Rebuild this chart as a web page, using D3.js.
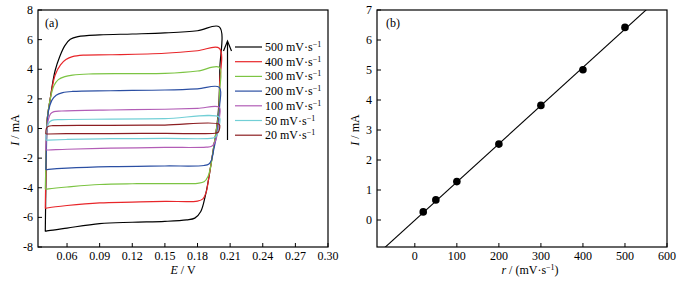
<!DOCTYPE html>
<html>
<head>
<meta charset="utf-8">
<script src="https://cdn.jsdelivr.net/npm/d3@7"></script>
<style>
body { margin: 0; background: #fff; }
text { font-family: "Liberation Serif", "DejaVu Serif", serif; }
</style>
</head>
<body>
<script>
// ---------- data ----------
// scan rates (legend order)
var rates = ["500", "400", "300", "200", "100", "50", "20"];
var rateColors = ["#000000", "#e8262a", "#7cc443", "#2b4fa3", "#b25db6", "#72cfd6", "#8c1e22"];

// cyclic voltammograms, [E / V, I / mA]
var cv500 = [[0.040,-6.95],[0.0405,-4],[0.041,-1],[0.0416,0.5],[0.0443,1.9],[0.049,3.9],[0.0535,4.9],[0.058,5.6],[0.063,6.02],[0.070,6.2],[0.090,6.32],[0.120,6.38],[0.150,6.45],[0.180,6.6],[0.200,6.86],[0.2005,4],[0.1995,1.5],[0.1975,0],[0.195,-1.2],[0.192,-2.6],[0.190,-3.5],[0.187,-4.6],[0.183,-5.6],[0.1775,-6.05],[0.170,-6.17],[0.150,-6.27],[0.120,-6.33],[0.090,-6.42],[0.060,-6.72],[0.043,-6.9],[0.040,-6.95]];
var cv400 = [[0.040,-5.4],[0.0405,-3],[0.041,-1],[0.0416,0.5],[0.0443,1.9],[0.049,3.6],[0.054,4.3],[0.059,4.65],[0.065,4.85],[0.075,4.95],[0.100,4.98],[0.150,5.08],[0.180,5.25],[0.200,5.42],[0.2003,3],[0.1995,1],[0.1975,0],[0.195,-1.2],[0.192,-2.6],[0.190,-3.5],[0.188,-4.3],[0.185,-4.75],[0.180,-4.9],[0.150,-4.92],[0.120,-4.97],[0.090,-5.02],[0.060,-5.2],[0.043,-5.35],[0.040,-5.4]];
var cv300 = [[0.040,-4.1],[0.0405,-2.5],[0.041,-1],[0.0416,0.5],[0.0443,1.9],[0.048,2.9],[0.052,3.3],[0.058,3.5],[0.065,3.6],[0.080,3.68],[0.120,3.7],[0.150,3.72],[0.180,3.88],[0.200,4.13],[0.2003,2.5],[0.1995,1],[0.1975,0],[0.195,-1.2],[0.192,-2.6],[0.1895,-3.25],[0.186,-3.6],[0.180,-3.7],[0.150,-3.72],[0.120,-3.73],[0.090,-3.78],[0.060,-3.95],[0.043,-4.07],[0.040,-4.1]];
var cv200 = [[0.0405,-2.78],[0.041,-1.5],[0.0416,0],[0.043,1.2],[0.046,1.9],[0.050,2.25],[0.056,2.42],[0.065,2.5],[0.100,2.55],[0.150,2.6],[0.180,2.68],[0.200,2.78],[0.2003,1.5],[0.199,0.3],[0.1975,-0.5],[0.195,-1.4],[0.193,-2.1],[0.1905,-2.4],[0.186,-2.5],[0.150,-2.53],[0.100,-2.58],[0.060,-2.68],[0.043,-2.76],[0.0405,-2.78]];
var cv100 = [[0.0405,-1.45],[0.041,-0.5],[0.0425,0.5],[0.045,1.0],[0.048,1.14],[0.055,1.18],[0.100,1.25],[0.150,1.3],[0.180,1.36],[0.200,1.43],[0.2003,0.8],[0.199,0],[0.1975,-0.6],[0.1955,-1.0],[0.193,-1.2],[0.188,-1.26],[0.150,-1.28],[0.100,-1.33],[0.060,-1.4],[0.043,-1.45],[0.0405,-1.45]];
var cv50 = [[0.0405,-0.78],[0.041,-0.2],[0.043,0.35],[0.046,0.55],[0.055,0.6],[0.100,0.63],[0.150,0.67],[0.200,0.76],[0.2003,0.3],[0.199,-0.2],[0.197,-0.55],[0.194,-0.65],[0.150,-0.67],[0.100,-0.69],[0.060,-0.74],[0.043,-0.78],[0.0405,-0.78]];
var cv20 = [[0.0405,-0.37],[0.041,0],[0.043,0.15],[0.047,0.19],[0.100,0.21],[0.150,0.23],[0.200,0.28],[0.2003,0],[0.199,-0.25],[0.196,-0.32],[0.150,-0.33],[0.100,-0.34],[0.060,-0.35],[0.043,-0.37],[0.0405,-0.37]];
var cvCurves = [cv500, cv400, cv300, cv200, cv100, cv50, cv20];

// panel (b): peak current vs scan rate
var scanRate = [20, 50, 100, 200, 300, 400, 500];
var peakCurrent = [0.27, 0.67, 1.28, 2.53, 3.82, 5.01, 6.42];
var fitSlope = 0.01274, fitIntercept = -0.008;

var eTicks = [0.06, 0.09, 0.12, 0.15, 0.18, 0.21, 0.24, 0.27, 0.30];
var iTicksA = [-8, -6, -4, -2, 0, 2, 4, 6, 8];
var rTicks = [0, 100, 200, 300, 400, 500, 600];
var iTicksB = [0, 1, 2, 3, 4, 5, 6, 7];

// ---------- svg ----------
var svg = d3.select("body").append("svg")
	.attr("width", 687)
	.attr("height", 283);

var tickLen = 4;

// draw one framed panel with inward ticks
function drawFrame(x, y, xTicks, yTicks, xFmt, yFmt) {
	var g = svg.append("g");
	var x0 = x.range()[0], x1 = x.range()[1];
	var y0 = y.range()[0], y1 = y.range()[1];
	g.append("rect")
		.attr("x", x0).attr("y", y1)
		.attr("width", x1 - x0).attr("height", y0 - y1)
		.attr("fill", "none").attr("stroke", "#000").attr("stroke-width", 1.2);
	// x ticks
	g.selectAll(".xt").data(xTicks).enter().append("line")
		.attr("x1", function(d){ return x(d); }).attr("x2", function(d){ return x(d); })
		.attr("y1", y0).attr("y2", y0 - tickLen)
		.attr("stroke", "#000");
	g.selectAll(".xl").data(xTicks).enter().append("text")
		.attr("x", function(d){ return x(d); })
		.attr("y", y0 + 12.5)
		.attr("text-anchor", "middle")
		.attr("font-size", 12)
		.text(xFmt);
	// y ticks
	g.selectAll(".yt").data(yTicks).enter().append("line")
		.attr("x1", x0).attr("x2", x0 + tickLen)
		.attr("y1", function(d){ return y(d); }).attr("y2", function(d){ return y(d); })
		.attr("stroke", "#000");
	g.selectAll(".yl").data(yTicks).enter().append("text")
		.attr("x", x0 - 5)
		.attr("y", function(d){ return y(d) + 4; })
		.attr("text-anchor", "end")
		.attr("font-size", 12)
		.text(yFmt);
	return g;
}

// ---------- panel (a) ----------
var xA = d3.scaleLinear().domain([0.0333, 0.30]).range([38, 328]);
var yA = d3.scaleLinear().domain([-8, 8]).range([247, 10]);

var cvLine = d3.line()
	.x(function(d){ return xA(d[0]); })
	.y(function(d){ return yA(d[1]); })
	.curve(d3.curveCatmullRom.alpha(0.5));

svg.append("g").selectAll("path")
	.data(cvCurves)
	.enter().append("path")
	.attr("d", cvLine)
	.attr("fill", "none")
	.attr("stroke", function(d, i){ return rateColors[i]; })
	.attr("stroke-width", 1.2);

drawFrame(xA, yA, eTicks, iTicksA, d3.format(".2f"), function(d){ return d < 0 ? "-" + (-d) : d; });

svg.append("text").attr("x", 45).attr("y", 27).attr("font-size", 12).text("(a)");

// legend
var legend = svg.append("g");
var legY0 = 47, legDy = 14.7;
rates.forEach(function(r, i) {
	var yy = legY0 + i * legDy;
	legend.append("line")
		.attr("x1", 235).attr("x2", 262)
		.attr("y1", yy).attr("y2", yy)
		.attr("stroke", rateColors[i]).attr("stroke-width", 1.2);
	var t = legend.append("text").attr("x", 265).attr("y", yy + 4).attr("font-size", 12);
	t.append("tspan").text(r + " mV\u00b7s");
	t.append("tspan").attr("dy", -4).attr("font-size", 8).text("\u22121");
});

// arrow
legend.append("line")
	.attr("x1", 227.5).attr("x2", 227.5)
	.attr("y1", 140).attr("y2", 42)
	.attr("stroke", "#000").attr("stroke-width", 1.2);
legend.append("path")
	.attr("d", "M223.5,51 L227.5,41 L231.5,51")
	.attr("fill", "none").attr("stroke", "#000").attr("stroke-width", 1.2);

// axis labels
var labA = svg.append("text")
	.attr("transform", "translate(19,130) rotate(-90)")
	.attr("text-anchor", "middle").attr("font-size", 12);
labA.append("tspan").attr("font-style", "italic").text("I");
labA.append("tspan").text(" / mA");

var labAx = svg.append("text").attr("x", 183).attr("y", 274)
	.attr("text-anchor", "middle").attr("font-size", 12);
labAx.append("tspan").attr("font-style", "italic").text("E");
labAx.append("tspan").text(" / V");

// ---------- panel (b) ----------
var xB = d3.scaleLinear().domain([-90, 600]).range([377, 667]);
var yB = d3.scaleLinear().domain([-0.9, 7]).range([247, 10]);

svg.append("clipPath").attr("id", "clipB")
	.append("rect").attr("x", 377).attr("y", 10).attr("width", 290).attr("height", 237);

var fitPts = xB.domain().map(function(r){ return [r, fitSlope * r + fitIntercept]; });
svg.append("path")
	.attr("clip-path", "url(#clipB)")
	.attr("d", d3.line().x(function(d){ return xB(d[0]); }).y(function(d){ return yB(d[1]); })(fitPts))
	.attr("fill", "none").attr("stroke", "#000").attr("stroke-width", 1.1);

svg.append("g").selectAll("circle")
	.data(scanRate)
	.enter().append("circle")
	.attr("cx", function(d){ return xB(d); })
	.attr("cy", function(d, i){ return yB(peakCurrent[i]); })
	.attr("r", 3.8)
	.attr("fill", "#000");

drawFrame(xB, yB, rTicks, iTicksB, function(d){ return d; }, function(d){ return d; });

svg.append("text").attr("x", 386).attr("y", 27).attr("font-size", 12).text("(b)");

var labB = svg.append("text")
	.attr("transform", "translate(359,130) rotate(-90)")
	.attr("text-anchor", "middle").attr("font-size", 12);
labB.append("tspan").attr("font-style", "italic").text("I");
labB.append("tspan").text(" / mA");

var labBx = svg.append("text").attr("x", 530).attr("y", 274)
	.attr("text-anchor", "middle").attr("font-size", 12);
labBx.append("tspan").attr("font-style", "italic").text("r");
labBx.append("tspan").text(" / (mV\u00b7s");
labBx.append("tspan").attr("dy", -4).attr("font-size", 8).text("\u22121");
labBx.append("tspan").attr("dy", 4).text(")");
</script>
</body>
</html>
